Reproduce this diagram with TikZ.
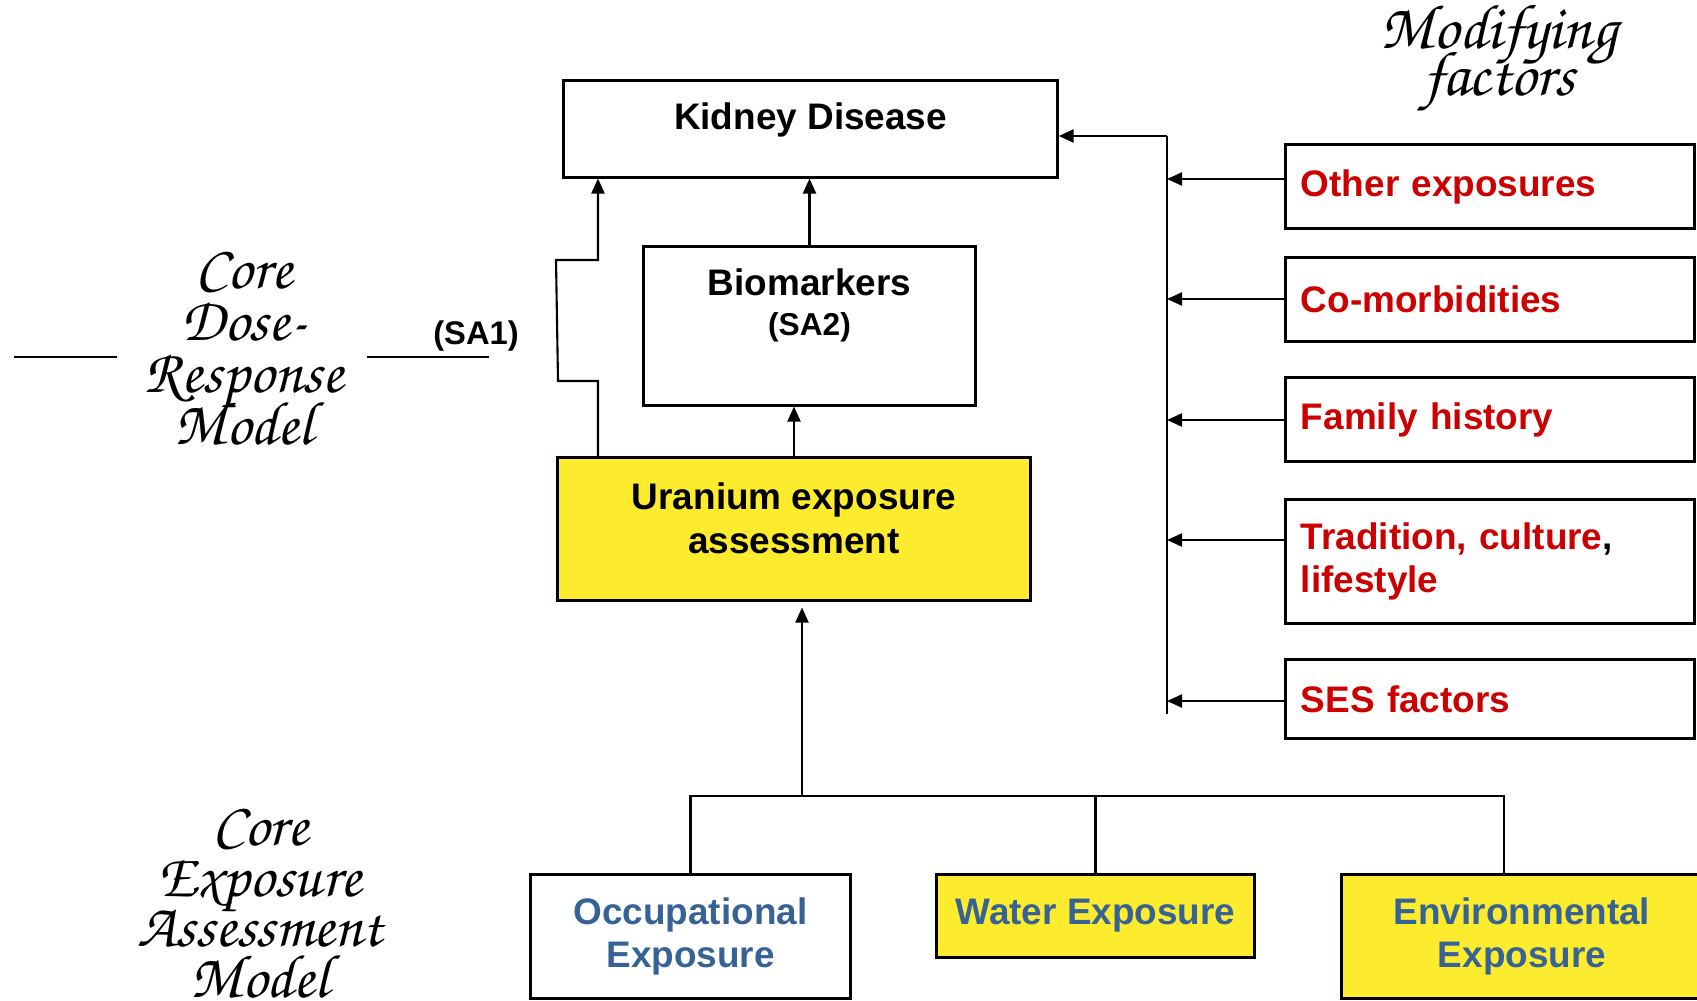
\documentclass[tikz,border=0pt]{standalone}
\usepackage[T1]{fontenc}
\usepackage{fontspec}
\setmainfont{Liberation Sans}
\usepackage{xcolor}
\usetikzlibrary{arrows.meta,positioning}

\definecolor{factorred}{RGB}{204,0,0}
\definecolor{sourceblue}{RGB}{54,98,150}
\definecolor{boxyellow}{RGB}{253,235,45}
\newcommand{\scriptlbl}{\fontencoding{T1}\fontfamily{pzc}\fontseries{mb}\fontshape{it}\selectfont\lineskiplimit=-30pt}

\begin{document}
\begin{tikzpicture}[
  x=0.01cm, y=-0.01cm,
  >={Triangle[length=1.5mm,width=1.3mm]},
  box/.style={draw, line width=0.85pt, rectangle, inner sep=0pt},
  lbl/.style={inner sep=0pt, align=center, font=\bfseries\fontsize{10.5}{12.3}\selectfont},
  factor/.style={box, text width=3.78cm, inner xsep=0.15cm, align=left, text=factorred, font=\bfseries\fontsize{10.5}{12.3}\selectfont},
  source/.style={box, align=center, text=sourceblue, font=\bfseries\fontsize{10.5}{12.3}\selectfont},
  model/.style={inner sep=0pt, align=center, font=\scriptlbl\fontsize{17.5}{14.7}\selectfont},
  link/.style={line width=0.6pt},
]
\useasboundingbox (0,0) rectangle (1697,1000);

% Dose-response chain
\node[box, minimum width=4.93cm, minimum height=0.96cm] (kd) at (810.5,129) {};
\node[lbl, below=0.23cm of kd.north] (kdlbl) {Kidney Disease};
\node[box, minimum width=3.31cm, minimum height=1.58cm] (bm) at (809.5,326) {};
\node[lbl, below=0.23cm of bm.north] (bmlbl) {Biomarkers\\[-1pt]{\fontsize{9}{10}\selectfont (SA2)}};
\node[box, fill=boxyellow, minimum width=4.72cm, minimum height=1.42cm] (ua) at (794,529) {};
\node[lbl, below=0.26cm of ua.north] (ualbl) {Uranium exposure\\assessment};

\draw[link, ->] (ua.north) -- (ua.north |- bm.south);
\draw[link, ->] (bm.north) -- (bm.north |- kd.south);

% SA1 bypass
\coordinate (sa1) at (598,0);
\draw[link, ->] (sa1 |- ua.north) -- (sa1 |- 0,381) -- (558,381) -- (556,260) -- (sa1 |- 0,260) -- (sa1 |- kd.south);

% Modifying factors
\coordinate (bartop) at (1167,136);
\coordinate (barbot) at (1167,714);
\draw[link] (bartop) -- (barbot);
\draw[link, ->] (bartop) -- (kd.east |- bartop);
\foreach \nm/\cy/\hgt/\ay/\txt in {
  oe/186.5/0.83/179/{Other exposures},
  cm/299.5/0.83/299/{Co-morbidities},
  fh/419.5/0.83/420/{Family history},
  tc/561.5/1.23/540/{Tradition, culture{\color{black},}\\lifestyle},
  ses/699/0.78/701/{SES factors}} {
  \node[factor, minimum height=\hgt cm] (\nm) at (1490,\cy) {\txt};
  \draw[link, ->] (\nm.west |- 0,\ay) -- (bartop |- 0,\ay);
}

% Exposure sources
\node[source, minimum width=3.19cm, minimum height=1.23cm] (occ) at (690.5,936.5) {Occupational\\Exposure};
\node[source, fill=boxyellow, minimum width=3.17cm, minimum height=0.82cm] (wat) at (1095.5,916) {Water Exposure};
\node[source, fill=boxyellow, minimum width=3.6cm, minimum height=1.23cm] (env) at (1522,936.5) {Environmental\\Exposure};

\coordinate (hub) at (802,796);
\draw[link] (occ.north) |- ([xshift=-0.18cm]env.north |- hub) -- ([xshift=-0.18cm]env.north);
\draw[link] (wat.north) -- (wat.north |- hub);
\draw[link, ->, shorten >=0.06cm] (hub) -- (hub |- ua.south);

% Model labels
\node[model] (drm) at (244,348) {Core\\Dose-\\Response\\Model};
\draw[line width=0.5pt] (14,357) -- (117,357);
\draw[line width=0.5pt] (367,357) -- (489,357);
\node[inner sep=0pt, font=\bfseries\fontsize{9.3}{11}\selectfont] (sa1lbl) at (476,336) {(SA1)};
\node[model, font=\scriptlbl\fontsize{18}{13.4}\selectfont] (mf) at (1499,59) {Modifying\\factors};
\node[model, font=\scriptlbl\fontsize{17.5}{14.4}\selectfont] (eam) at (260,903) {Core\\Exposure\\Assessment\\Model};
\end{tikzpicture}
\end{document}
